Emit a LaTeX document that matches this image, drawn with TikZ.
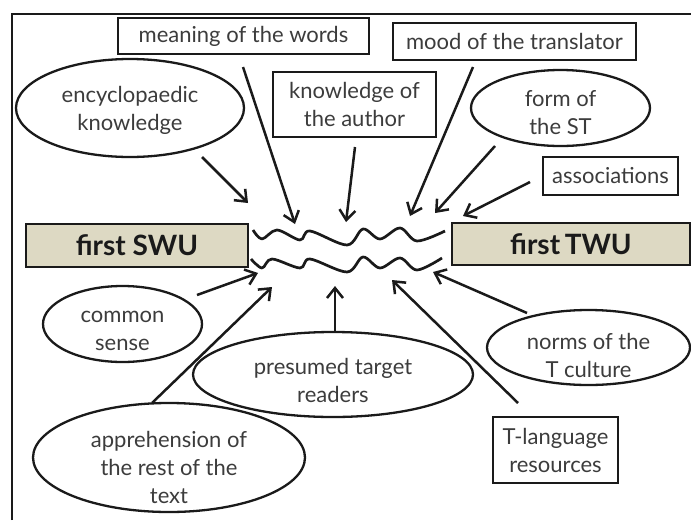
\documentclass[tikz,border=0pt]{standalone}
\usepackage{fontspec}
\setmainfont{Lato}
\usetikzlibrary{shapes.geometric,arrows.meta}
\definecolor{tanfill}{HTML}{DDD9C3}
\definecolor{ink}{HTML}{1A1A1A}
\tikzset{
  every node/.style={font=\fontsize{22}{28}\selectfont, text=ink!85},
  tag/.style={draw=ink, line width=2.3pt, inner sep=0pt, align=center},
  bubble/.style={draw=ink, ellipse, line width=2.3pt, inner sep=0pt},
  unit/.style={draw=ink, fill=tanfill, line width=2.3pt, inner sep=0pt,
    font=\fontsize{28}{32}\selectfont\bfseries, text=ink},
  txt/.style={align=center, inner sep=0pt},
  feed/.style={draw=ink, line width=2.5pt, -{Straight Barb[length=10pt,width=16pt,line width=2.5pt]}},
  wave/.style={draw=ink, line width=2.7pt, line join=round},
}
\begin{document}
\begin{tikzpicture}[x=1pt,y=-1pt]
\useasboundingbox (0,0) rectangle (691,520);
% outer frame
\draw[ink, line width=2.8pt] (12,520) -- (12,14) -- (691,14);

% rectangular factors
\node[tag, minimum width=251pt, minimum height=36pt] (mean) at (243.5,36) {meaning of the words};
\node[tag, minimum width=243pt, minimum height=37pt] (mood) at (514.5,41.5) {mood of the translator};
\node[tag, minimum width=163pt, minimum height=65pt] (auth) at (354.5,104.5) {knowledge of\\the author};
\node[tag, minimum width=135pt, minimum height=38pt] (assoc) at (610.5,176) {associations};
\node[tag, minimum width=125pt, minimum height=66pt] (tlang) at (555.5,450) {T-language\\resources};

% elliptical factors
\node[bubble, minimum width=228pt, minimum height=98pt] (ency) at (130,108) {};
\node[txt] at (130,110) {encyclopaedic\\knowledge};
\node[bubble, minimum width=179pt, minimum height=76pt] (form) at (560.5,108) {};
\node[txt] at (560.5,113) {form of\\the ST};
\node[bubble, minimum width=159pt, minimum height=76pt] (sense) at (122.5,324) {};
\node[txt] at (122.5,331) {common\\sense};
\node[bubble, minimum width=280pt, minimum height=85pt] (read) at (333,374.5) {};
\node[txt] at (333,380) {presumed target\\readers};
\node[bubble, minimum width=272pt, minimum height=109pt] (appr) at (169,457.5) {};
\node[txt] at (169,467) {apprehension of\\the rest of the\\text};
\node[bubble, minimum width=203pt, minimum height=75pt] (norm) at (588.5,347.5) {};
\node[txt] at (588.5,355) {norms of the\\T culture};

% source and target units
\node[unit, minimum width=222pt, minimum height=43pt] (swu) at (137,245.5) {first SWU};
\node[unit, minimum width=238pt, minimum height=42pt] (twu) at (571,244) {first\kern-0.08em\ TWU};

% the two wavy lines between the units
\draw[wave] plot[smooth, tension=0.55] coordinates {(253,230) (262,239) (277,230) (300,240) (310,231) (347,245) (363,229) (380,239) (400,228) (417,241) (445,231)};
\draw[wave] plot[smooth, tension=0.55] coordinates {(251,259) (262,268) (272,259) (300,268) (310,259) (347,272) (363,257) (380,268) (400,258) (417,270) (442,258)};

% arrow targets around the wavy lines
\coordinate (tEncy) at (248,203);
\coordinate (tMean) at (295,224);
\coordinate (tAuth) at (346,222);
\coordinate (tMood) at (410,216);
\coordinate (tForm) at (435,213);
\coordinate (tAssoc) at (463,216);
\coordinate (tSense) at (258,273);
\coordinate (tAppr) at (272,287);
\coordinate (tRead) at (335,286);
\coordinate (tLang) at (392,280);
\coordinate (tNorm) at (433,272);

% influences
\draw[feed] (202,157) -- (tEncy);
\draw[feed] (243,67) -- (tMean);
\draw[feed] (355,147) -- (tAuth);
\draw[feed] (473,67) -- (tMood);
\draw[feed] (495,146) -- (tForm);
\draw[feed] (530,182) -- (tAssoc);
\draw[feed] (197,295) -- (tSense);
\draw[feed] (152,403) -- (tAppr);
\draw[feed] (335,332) -- (tRead);
\draw[feed] (518,403) -- (tLang);
\draw[feed] (527,313) -- (tNorm);
\end{tikzpicture}
\end{document}
